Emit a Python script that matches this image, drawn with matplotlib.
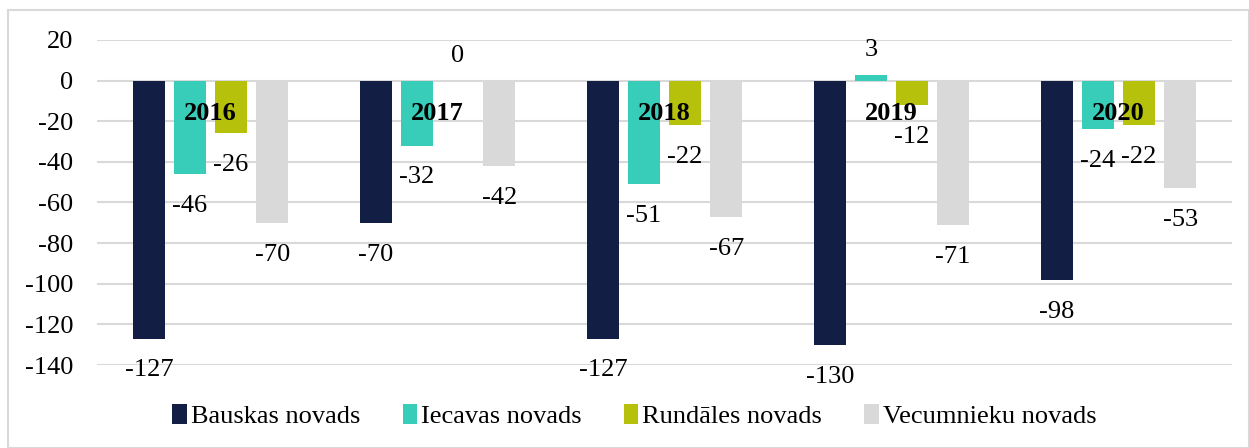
import numpy as np
import matplotlib.pyplot as plt
from matplotlib.patches import Rectangle
from matplotlib.ticker import FuncFormatter

plt.rcParams['font.family'] = ['Liberation Serif', 'DejaVu Serif']

years = ['2016', '2017', '2018', '2019', '2020']
series = ['Bauskas novads', 'Iecavas novads', 'Rundāles novads', 'Vecumnieku novads']
bauska = [-127, -70, -127, -130, -98]
iecava = [-46, -32, -51, 3, -24]
rundale = [-26, 0, -22, -12, -22]
vecumnieki = [-70, -42, -67, -71, -53]
colors = ['#131e45', '#38cdb9', '#b5c10b', '#d9d9d9']

values = [bauska, iecava, rundale, vecumnieki]

fig = plt.figure(figsize=(12.49, 4.48), dpi=100)
ax = fig.add_axes([97 / 1249, 1 - 365 / 448, 1135 / 1249, 325 / 448])

x = np.arange(len(years))
w = 0.141
step = 0.181
fs = 19
for i, (vals, c, name) in enumerate(zip(values, colors, series)):
    pos = x + (i - 1.5) * step
    ax.bar(pos, vals, width=w, color=c, label=name, zorder=2)
    for xp, v in zip(pos, vals):
        if v < 0:
            ax.annotate(str(v), (xp, v), xytext=(0, -15), textcoords='offset points',
                        ha='center', va='top', fontsize=fs)
        else:
            ax.annotate(str(v), (xp, v), xytext=(0, 10), textcoords='offset points',
                        ha='center', va='bottom', fontsize=fs)

for xi, yr in zip(x, years):
    ax.text(xi, -16, yr, ha='center', va='center', fontsize=fs, fontweight='bold', zorder=3)

ax.set_xlim(-0.5, len(years) - 0.5)
ax.set_ylim(-140, 20)
ax.set_yticks(np.arange(-140, 21, 20))
ax.yaxis.set_major_formatter(FuncFormatter(lambda v, p: '%d' % v))
ax.set_xticks([])
ax.tick_params(axis='y', length=0, labelsize=fs, pad=17)
ax.yaxis.grid(True, color='#d9d9d9', linewidth=1.5, zorder=0)
for s in ax.spines.values():
    s.set_visible(False)

fig.legend(loc='center', bbox_to_anchor=(0.508, 1 - 416 / 448), ncol=4, frameon=False,
           fontsize=fs, handlelength=0.55, handleheight=0.8, handletextpad=0.15, columnspacing=1.6)

fig.patches.append(Rectangle((8 / 1249, 0), 1 - 8 / 1249, 1 - 10 / 448, transform=fig.transFigure,
                             fill=False, edgecolor='#d9d9d9', linewidth=1.5))

fig.savefig('out.png', dpi=100)
